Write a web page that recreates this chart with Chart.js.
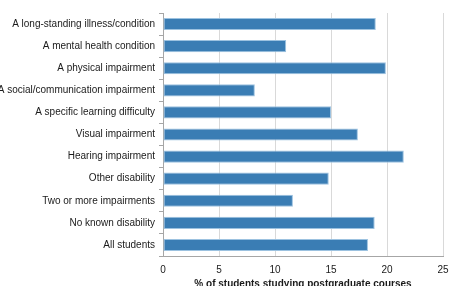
<!DOCTYPE html>
<html lang="en">
<head>
    <meta charset="UTF-8">
    <title>Postgraduate study by disability</title>
    <script src="https://cdn.jsdelivr.net/npm/chart.js"></script>
    <style>
        html, body {
            margin: 0;
            padding: 0;
            background: #fff;
            overflow: hidden;
        }
        .chart-box {
            position: relative;
            width: 451px;
            height: 290px;
        }
    </style>
</head>
<body>
    <div class="chart-box">
        <canvas id="pgChart"></canvas>
    </div>
    <script>
        // categories (top to bottom)
        const categories = [
            'A long-standing illness/condition',
            'A mental health condition',
            'A physical impairment',
            'A social/communication impairment',
            'A specific learning difficulty',
            'Visual impairment',
            'Hearing impairment',
            'Other disability',
            'Two or more impairments',
            'No known disability',
            'All students'
        ];
        // % of students studying postgraduate courses
        const pgShare = [19.0, 11.0, 19.9, 8.2, 15.0, 17.4, 21.5, 14.8, 11.6, 18.9, 18.3];
        const xTicks = [0, 5, 10, 15, 20, 25];
        const axisTitle = '% of students studying postgraduate courses';

        const textColor = '#1a1a1a';

        const ctx = document.getElementById('pgChart').getContext('2d');
        new Chart(ctx, {
            type: 'bar',
            data: {
                labels: categories,
                datasets: [{
                    data: pgShare,
                    backgroundColor: '#3a7db4',
                    borderColor: '#9cc2e0',
                    borderWidth: 1,
                    borderSkipped: false,
                    barPercentage: 0.55,
                    categoryPercentage: 1.0
                }]
            },
            options: {
                indexAxis: 'y',
                responsive: true,
                maintainAspectRatio: false,
                animation: false,
                layout: {
                    padding: { top: 13, right: 8, left: 0, bottom: 0 }
                },
                plugins: {
                    legend: { display: false },
                    tooltip: { enabled: false }
                },
                scales: {
                    x: {
                        min: 0,
                        max: 25,
                        afterBuildTicks: function (scale) {
                            scale.ticks = xTicks.map(v => ({ value: v }));
                        },
                        afterFit: function (scale) {
                            scale.height = 34;
                            // let the "25" label hang into the right margin
                            scale.paddingRight = 0;
                            scale.paddingLeft = 0;
                        },
                        grid: {
                            color: '#d9d9d9',
                            tickLength: 0
                        },
                        border: { color: '#a6a6a6' },
                        ticks: {
                            color: textColor,
                            padding: 8,
                            font: { family: 'Liberation Sans, Arial', size: 10 }
                        },
                        title: {
                            display: true,
                            text: axisTitle,
                            color: textColor,
                            padding: { top: 1, bottom: 0 },
                            font: { family: 'Liberation Sans, Arial', size: 10, weight: 'bold' }
                        }
                    },
                    y: {
                        afterFit: function (scale) {
                            scale.width = 163;
                        },
                        grid: {
                            offset: true,
                            drawOnChartArea: false,
                            tickLength: 4,
                            color: '#a6a6a6'
                        },
                        border: { color: '#a6a6a6' },
                        ticks: {
                            color: textColor,
                            padding: 4,
                            autoSkip: false,
                            font: { family: 'Liberation Sans, Arial', size: 10 }
                        }
                    }
                }
            }
        });
    </script>
</body>
</html>
